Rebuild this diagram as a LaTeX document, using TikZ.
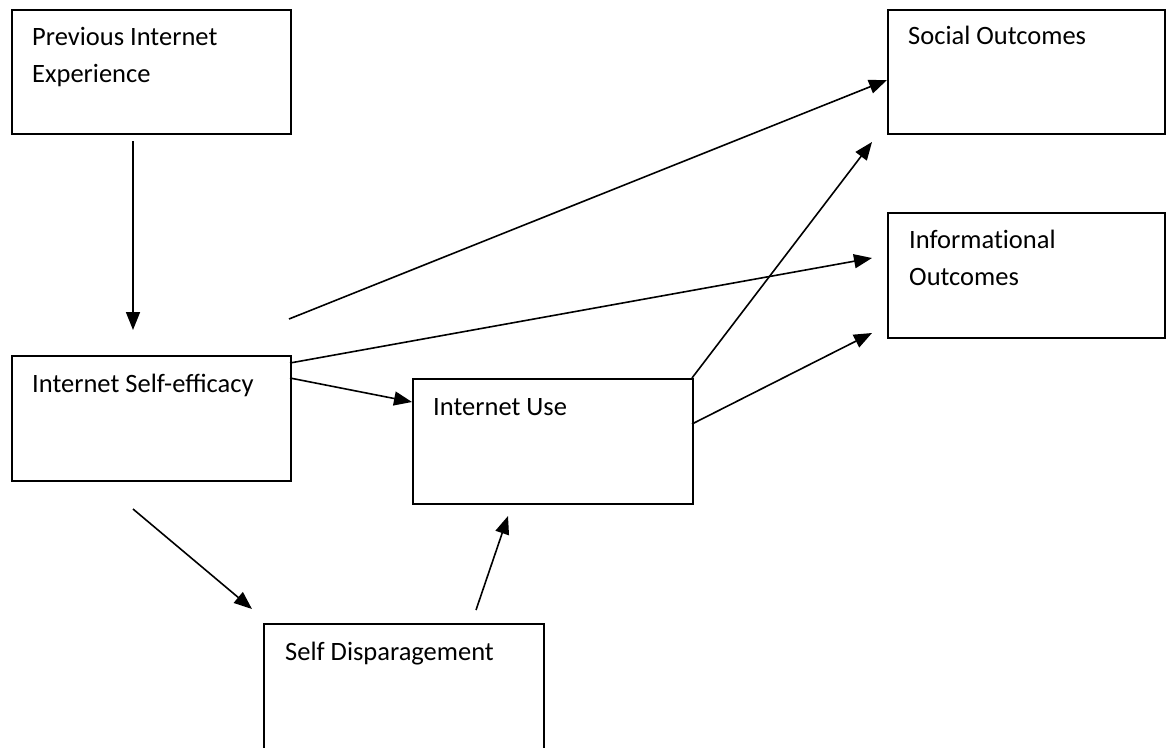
\documentclass[tikz,border=0pt]{standalone}
\usepackage{fontspec}
\setmainfont{Carlito}
\usetikzlibrary{arrows.meta,calc}
\tikzset{
  box/.style={draw=black, line width=2pt, rectangle, inner sep=0pt},
  txt/.style={anchor=base west, inner sep=0pt, font=\fontsize{26.5}{37}\selectfont, align=left},
  arr/.style={line width=1.6pt, -{Triangle[length=18pt,width=14pt]}},
}
\begin{document}
\begin{tikzpicture}[x=1pt,y=-1pt]
\useasboundingbox (0,0) rectangle (1166,747);
\clip (0,0) rectangle (1166,747);
% boxes
\node[box, minimum width=279pt, minimum height=124pt, anchor=north west] (pie) at (11,9) {};
\node[box, minimum width=277pt, minimum height=124pt, anchor=north west] (so) at (887,9) {};
\node[box, minimum width=277pt, minimum height=125pt, anchor=north west] (io) at (887,212) {};
\node[box, minimum width=279pt, minimum height=125pt, anchor=north west] (ise) at (11,355) {};
\node[box, minimum width=280pt, minimum height=125pt, anchor=north west] (iu) at (412,378) {};
\node[box, minimum width=280pt, minimum height=180pt, anchor=north west] (sd) at (263,623) {};
% texts (multi-line texts are anchored at the baseline of their last line)
\node[txt] (tpie) at (32,82) {Previous Internet\\Experience};
\node[txt] (tso) at (908,44) {Social Outcomes};
\node[txt] (tio) at (909,285) {Informat\kern0pt ional\\Outcomes};
\node[txt] (tise) at (32,392) {Internet Self-efficacy};
\node[txt] (tiu) at (433,415) {Internet Use};
\node[txt] (tsd) at (285,660) {Self Disparagement};
% free ends
\coordinate (a1s) at (133,141);
\coordinate (a1e) at (133,330);
\coordinate (a2s) at (289,319);
\coordinate (a2e) at (887,80);
\coordinate (a3s) at (290,363);
\coordinate (a3e) at (872,258);
\coordinate (a4s) at (290,378);
\coordinate (a4e) at (412,402);
\coordinate (a5s) at (692,378);
\coordinate (a5e) at (872,142);
\coordinate (a6s) at (692,424);
\coordinate (a6e) at (872,333);
\coordinate (a7s) at (133,509);
\coordinate (a7e) at (252,609);
\coordinate (a8s) at (476,610);
\coordinate (a8e) at (508,516);
% connectors
\draw[arr] (a1s) -- (a1e);
\draw[arr] (a2s) -- (a2e);
\draw[arr] (a3s) -- (a3e);
\draw[arr] (a4s) -- (a4e);
\draw[arr] (a5s) -- (a5e);
\draw[arr] (a6s) -- (a6e);
\draw[arr] (a7s) -- (a7e);
\draw[arr] (a8s) -- (a8e);
\end{tikzpicture}
\end{document}
